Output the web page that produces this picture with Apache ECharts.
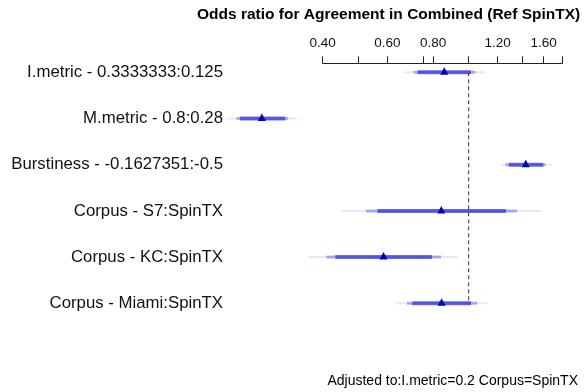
<!DOCTYPE html>
<html>
<head>
<meta charset="utf-8">
<script src="https://cdn.jsdelivr.net/npm/echarts@6/dist/echarts.min.js"></script>
<style>
html,body{margin:0;padding:0;background:#fff;}
#chart{width:587px;height:392px;}
</style>
</head>
<body>
<div id="chart"></div>
<script>
const categories = [
  'I.metric - 0.3333333:0.125',
  'M.metric - 0.8:0.28',
  'Burstiness - -0.1627351:-0.5',
  'Corpus - S7:SpinTX',
  'Corpus - KC:SpinTX',
  'Corpus - Miami:SpinTX'
];
const pointEst = [0.858, 0.273, 1.431, 0.842, 0.586, 0.844];
const lo90 = [0.726, 0.238, 1.286, 0.564, 0.433, 0.702];
const hi90 = [1.015, 0.316, 1.597, 1.265, 0.794, 1.015];
const lo95 = [0.708, 0.233, 1.260, 0.525, 0.409, 0.679];
const hi95 = [1.043, 0.322, 1.620, 1.356, 0.841, 1.054];
const lo99 = [0.667, 0.221, 1.221, 0.451, 0.367, 0.635];
const hi99 = [1.106, 0.340, 1.682, 1.577, 0.935, 1.123];
const tickValues = [0.4, 0.5, 0.6, 0.75, 0.8, 1, 1.2, 1.4, 1.6, 1.8];
const labelValues = [0.4, 0.6, 0.8, 1.2, 1.6];
const refValue = 1;
const titleText = 'Odds ratio for Agreement in Combined (Ref SpinTX)';
const footerText = 'Adjusted to:I.metric=0.2 Corpus=SpinTX';

const ln = Math.log;
const data = categories.map((c, i) => [i, ln(pointEst[i]), ln(lo90[i]), ln(hi90[i]), ln(lo95[i]), ln(hi95[i]), ln(lo99[i]), ln(hi99[i])]);

const chart = echarts.init(document.getElementById('chart'));
const FONT = '"Liberation Sans", Arial, Helvetica, sans-serif';

function band(api, y, a, b, h, color) {
  const p1 = api.coord([api.value(a), y]);
  const p2 = api.coord([api.value(b), y]);
  return {type: 'rect', shape: {x: p1[0], y: p1[1] - h / 2, width: p2[0] - p1[0], height: h}, style: {fill: color}};
}

chart.setOption({
  animation: false,
  textStyle: {fontFamily: FONT},
  grid: {left: 322.7, right: 24.7, top: 72.3, bottom: 88.7},
  xAxis: {
    type: 'value',
    position: 'top',
    offset: 9,
    min: ln(tickValues[0]),
    max: ln(tickValues[tickValues.length - 1]),
    axisLine: {show: true, lineStyle: {color: '#222', width: 1}},
    axisTick: {show: true, length: 7, lineStyle: {color: '#222'}, customValues: tickValues.map(ln)},
    axisLabel: {show: true, margin: 13, fontSize: 13.5, color: '#111', fontFamily: FONT,
      customValues: labelValues.map(ln),
      formatter: v => Math.exp(v).toFixed(2)},
    splitLine: {show: false}
  },
  yAxis: {
    type: 'category',
    inverse: true,
    boundaryGap: false,
    data: categories,
    axisLine: {show: false},
    axisTick: {show: false},
    splitLine: {show: false},
    axisLabel: {margin: 99.7, fontSize: 16.8, color: '#111', fontFamily: FONT}
  },
  graphic: [
    {type: 'text', left: 197, top: 7, style: {text: titleText, font: 'bold 15.5px ' + FONT, fill: '#000'}},
    {type: 'text', right: 9, top: 374, style: {text: footerText, font: '14px ' + FONT, fill: '#000'}}
  ],
  series: [
    {
      type: 'line',
      data: [[ln(refValue), 0], [ln(refValue), categories.length - 1]],
      symbol: 'none',
      lineStyle: {color: '#333', width: 1, type: [4, 3]},
      z: 1
    },
    {
      type: 'custom',
      clip: false,
      z: 3,
      data: data,
      renderItem: function (params, api) {
        const y = api.value(0);
        const pt = api.coord([api.value(1), y]);
        return {
          type: 'group',
          children: [
            band(api, y, 6, 7, 2, 'rgba(60,60,230,0.12)'),
            band(api, y, 4, 5, 3, 'rgba(40,40,220,0.35)'),
            band(api, y, 2, 3, 4, 'rgba(30,30,215,0.6)'),
            {type: 'polygon', shape: {points: [[pt[0] - 4, pt[1] + 2.5], [pt[0] + 4, pt[1] + 2.5], [pt[0], pt[1] - 5]]}, style: {fill: '#0000c0'}}
          ]
        };
      }
    }
  ]
});
</script>
</body>
</html>
